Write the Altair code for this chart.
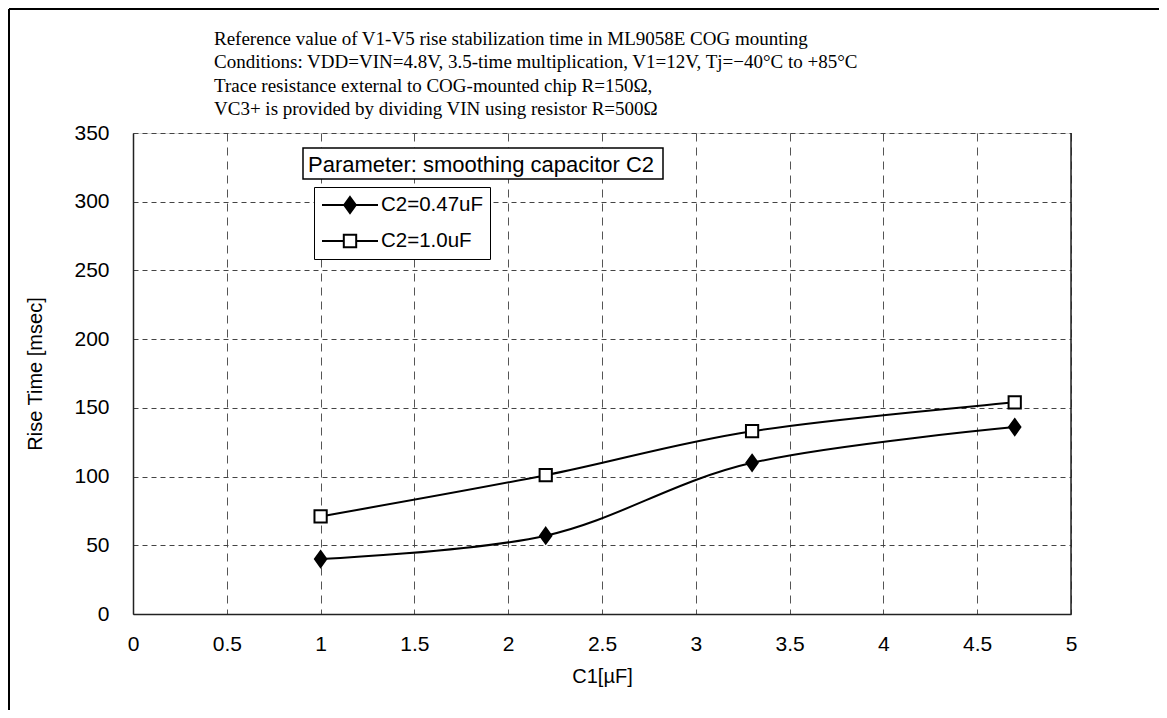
import altair as alt
import pandas as pd

# ---------------- data ----------------
C1 = [1.0, 2.2, 3.3, 4.7]
RISE_C2_047 = [40, 57, 110, 136]
RISE_C2_10 = [71, 101, 133, 154]
SERIES = ["C2=0.47uF", "C2=1.0uF"]
X_TICKS = [0, 0.5, 1, 1.5, 2, 2.5, 3, 3.5, 4, 4.5, 5]
Y_TICKS = [0, 50, 100, 150, 200, 250, 300, 350]
TITLE_LINES = [
    "Reference value of V1-V5 rise stabilization time in ML9058E COG mounting",
    "Conditions: VDD=VIN=4.8V, 3.5-time multiplication, V1=12V, Tj=\u221240\u00b0C to +85\u00b0C",
    "Trace resistance external to COG-mounted chip R=150\u03a9,",
    "VC3+ is provided by dividing VIN using resistor R=500\u03a9",
]
PARAM_LABEL = ["Parameter: smoothing capacitor C2"]
X_TITLE = "C1[\u00b5F]"
Y_TITLE = "Rise Time [msec]"

df = pd.DataFrame({
    "c1": C1 + C1,
    "rise": RISE_C2_047 + RISE_C2_10,
    "series": [SERIES[0]] * len(C1) + [SERIES[1]] * len(C1),
})

W, H = 938, 481
PAD = {"left": 125, "top": 125, "right": 88, "bottom": 96}
SANS = "Liberation Sans"
SERIF = "Liberation Serif"

DIAMOND = "M0,-1L0.72,0L0,1L-0.72,0Z"
LEG_DIAMOND = "M-2.8,0H2.8M0,-0.8L0.58,0L0,0.8L-0.58,0Z"
LEG_SQUARE = "M-2.8,0H-0.62M0.62,0H2.8M-0.62,-0.62H0.62V0.62H-0.62Z"

x_enc = alt.X(
    "c1:Q",
    scale=alt.Scale(domain=[0, 5], nice=False, zero=False),
    axis=alt.Axis(
        values=X_TICKS, format="~g", title=X_TITLE,
        grid=True, gridDash=[8, 6], gridColor="#555555", gridWidth=1, gridOpacity=1,
        ticks=False, tickSize=0, domain=True, domainColor="#222222", domainWidth=1.5,
        labelFont=SANS, labelFontSize=21, labelColor="black", labelPadding=19,
        labelFlush=False,
        titleFont=SANS, titleFontSize=20, titleFontWeight="normal", titleColor="black",
        titlePadding=12,
    ),
)
y_enc = alt.Y(
    "rise:Q",
    scale=alt.Scale(domain=[0, 350], nice=False),
    axis=alt.Axis(
        values=Y_TICKS, title=Y_TITLE,
        grid=True, gridDash=[5, 4], gridColor="#444444", gridWidth=1, gridOpacity=1,
        ticks=False, tickSize=0, domain=True, domainColor="#222222", domainWidth=1.5,
        labelFont=SANS, labelFontSize=21, labelColor="black", labelPadding=24,
        labelFlush=False,
        titleFont=SANS, titleFontSize=20, titleFontWeight="normal", titleColor="black",
        titlePadding=28,
    ),
)

base = alt.Chart(df)

lines = base.mark_line(interpolate="cardinal", color="black", strokeWidth=2).encode(
    x=x_enc, y=y_enc, detail="series:N"
)

points = base.mark_point(filled=False, stroke="black", strokeWidth=2, opacity=1).encode(
    x="c1:Q",
    y="rise:Q",
    shape=alt.Shape("series:N", scale=alt.Scale(domain=SERIES, range=[DIAMOND, "square"]), legend=None),
    fill=alt.Fill("series:N", scale=alt.Scale(domain=SERIES, range=["black", "white"]), legend=None),
    size=alt.Size("series:N", scale=alt.Scale(domain=SERIES, range=[250, 150]), legend=None),
)

leg = alt.Legend(
    title=None, orient="none", legendX=181, legendY=54, direction="vertical",
    strokeColor="black", fillColor="white", padding=7, rowPadding=13,
    symbolSize=400, symbolStrokeWidth=2, symbolStrokeColor="black", symbolOpacity=1,
    symbolOffset=18, labelOffset=20,
    labelFont=SANS, labelFontSize=20.5, labelColor="black",
)

legend_layer = base.mark_point(opacity=0, strokeWidth=2).encode(
    x="c1:Q",
    y="rise:Q",
    shape=alt.Shape("series:N", scale=alt.Scale(domain=SERIES, range=[LEG_DIAMOND, LEG_SQUARE]), legend=leg),
    fill=alt.Fill("series:N", scale=alt.Scale(domain=SERIES, range=["black", "white"]), legend=leg),
    stroke=alt.Stroke("series:N", scale=alt.Scale(domain=SERIES, range=["black", "black"]), legend=leg),
)

right_border = alt.Chart(pd.DataFrame({"edge": [5]})).mark_rule(color="#222222", strokeWidth=1.5).encode(
    x="edge:Q"
)

one = pd.DataFrame({"label": PARAM_LABEL, "title": ["\n".join(TITLE_LINES)]})
param_box = alt.Chart(one).mark_rect(fill="white", stroke="black", strokeWidth=1.5).encode(
    x=alt.value(170), x2=alt.value(530), y=alt.value(15), y2=alt.value(46)
)
param_text = alt.Chart(one).mark_text(
    align="left", baseline="alphabetic", font=SANS, fontSize=22, color="black"
).encode(x=alt.value(175), y=alt.value(39), text="label:N")

title_text = alt.Chart(one).mark_text(
    align="left", baseline="alphabetic", font=SERIF, fontSize=19, color="black",
    lineBreak="\n", lineHeight=23.3,
).encode(x=alt.value(81), y=alt.value(-88), text="title:N")

frame_top = alt.Chart(one).mark_rule(color="black", strokeWidth=2).encode(
    x=alt.value(-124), x2=alt.value(W + PAD["right"]), y=alt.value(-124)
)
frame_left = alt.Chart(one).mark_rule(color="black", strokeWidth=2).encode(
    x=alt.value(-124), y=alt.value(-124), y2=alt.value(H + PAD["bottom"])
)

chart = alt.layer(
    lines, right_border, points, legend_layer, param_box, param_text, title_text,
    frame_top, frame_left
).resolve_scale(
    shape="independent", fill="independent", size="independent", stroke="independent"
).properties(
    width=W, height=H,
    autosize=alt.AutoSizeParams(type="none"),
    padding=PAD,
).configure_view(stroke=None).configure(background="white")

chart.save("out.html", embed_options={"renderer": "svg", "actions": False})
